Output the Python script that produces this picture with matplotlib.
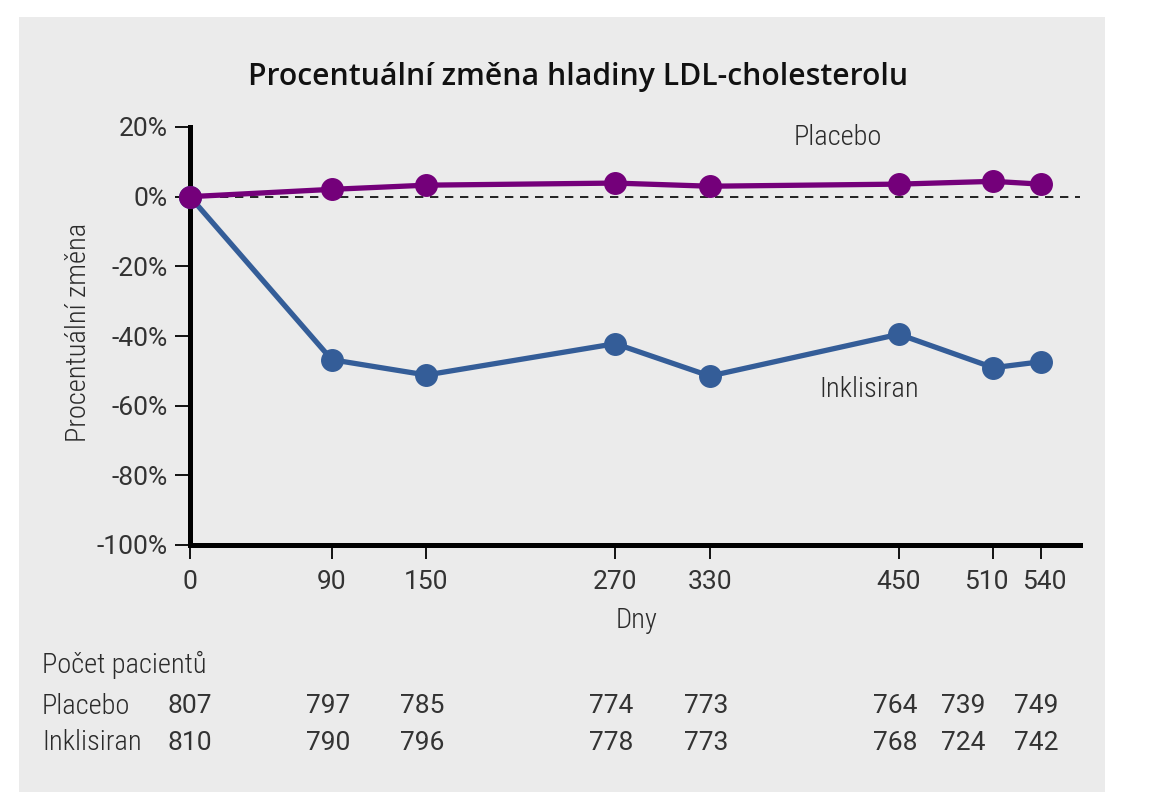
import matplotlib
matplotlib.use("Agg")
import matplotlib.pyplot as plt
from matplotlib import font_manager
from matplotlib.patches import Rectangle
from matplotlib.transforms import blended_transform_factory, offset_copy, ScaledTranslation

# ---------------- data ----------------
days = [0, 90, 150, 270, 330, 450, 510, 540]
placebo = [0.0, 2.1, 3.3, 3.9, 3.0, 3.6, 4.4, 3.6]
inclisiran = [0.0, -46.8, -51.2, -42.2, -51.5, -39.5, -49.1, -47.4]
y_ticks = [20, 0, -20, -40, -60, -80, -100]
n_placebo = [807, 797, 785, 774, 773, 764, 739, 749]
n_inclisiran = [810, 790, 796, 778, 773, 768, 724, 742]
title = "Procentuální změna hladiny LDL-cholesterolu"
ylabel = "Procentuální změna"
xlabel = "Dny"
table_header = "Počet pacientů"
row_labels = ["Placebo", "Inklisiran"]

# ---------------- fonts ----------------
avail = {f.name for f in font_manager.fontManager.ttflist}


def pick(cands):
    for c in cands:
        if c in avail:
            return c
    return "DejaVu Sans"


WORD_FONT = [pick(["Roboto Condensed", "Liberation Sans Narrow", "Roboto"]), "DejaVu Sans"]
NUM_FONT = [pick(["Roboto", "Open Sans", "Lato"]), "DejaVu Sans"]
TITLE_FONT = [pick(["Open Sans", "Noto Sans", "Lato"]), "DejaVu Sans"]
plt.rcParams["font.family"] = WORD_FONT

PURPLE = "#74007a"
BLUE = "#345d98"
TXT = "#2b2b2b"
NUM_COL = "#333333"
FS_W = 20.5
FS_N = 19
FW = "light"
FW_N = "normal"

W, H = 1153, 800
fig = plt.figure(figsize=(W / 100, H / 100), dpi=100, facecolor="white")
fig.patches.append(Rectangle((19 / W, 1 - 792 / H), (1105 - 19) / W, (792 - 17) / H,
                             transform=fig.transFigure, facecolor="#ebebeb",
                             edgecolor="none", zorder=-10))

ax = fig.add_axes([190 / W, 1 - 545 / H, (1080 - 190) / W, (545 - 127) / H])
ax.set_zorder(5)
ax.set_facecolor("none")
ax.set_xlim(0, 565)
ax.set_ylim(-100, 20)

for s in ["top", "right"]:
    ax.spines[s].set_visible(False)
for s in ["left", "bottom"]:
    ax.spines[s].set_linewidth(3.6)
    ax.spines[s].set_color("black")
    ax.spines[s].set_capstyle("projecting")

ax.set_xticks(days)
ax.set_xticklabels([str(d) for d in days])
ax.set_yticks(y_ticks)
ax.set_yticklabels([f"{v}%" for v in y_ticks])
ax.tick_params(axis="y", direction="out", length=11, width=1.3, color="black",
               labelsize=FS_N, labelcolor=NUM_COL, pad=5)
ax.tick_params(axis="x", direction="out", length=10, width=1.3, color="black",
               labelsize=FS_N, labelcolor=NUM_COL, pad=8)
for lab in ax.get_xticklabels() + ax.get_yticklabels():
    lab.set_fontweight(FW_N)
    lab.set_family(NUM_FONT)
# slight nudges of the two crowded last x tick labels
xl = ax.get_xticklabels()
xl[-2].set_transform(xl[-2].get_transform() + ScaledTranslation(-7 / 100, 0, fig.dpi_scale_trans))
xl[-1].set_transform(xl[-1].get_transform() + ScaledTranslation(4 / 100, 0, fig.dpi_scale_trans))

ax.axhline(0, color="black", lw=1.2, ls=(0, (5, 4)), zorder=1)

ax.plot(days, inclisiran, color=BLUE, lw=3.8, marker="o", ms=15.5, clip_on=False, zorder=3)
ax.plot(days, placebo, color=PURPLE, lw=3.8, marker="o", ms=15.5, clip_on=False, zorder=4)

ax.text(411, 17, "Placebo", ha="center", va="center", fontsize=FS_W, fontweight=FW, color=TXT)
ax.text(431, -55.3, "Inklisiran", ha="center", va="center", fontsize=FS_W, fontweight=FW, color=TXT)

fig.text(578 / W, 1 - 77 / H, title, ha="center", va="center", fontsize=21.7,
         fontweight="semibold", family=TITLE_FONT, color="#111111")
fig.text(78 / W, 1 - 332 / H, ylabel, ha="center", va="center", rotation=90,
         fontsize=FS_W, fontweight=FW, color=TXT)
fig.text(637 / W, 1 - 620 / H, xlabel, ha="center", va="center", fontsize=FS_W,
         fontweight=FW, color=TXT)

# patient-count table
tr = blended_transform_factory(ax.transData, fig.transFigure)
fig.text(42 / W, 1 - 665 / H, table_header, ha="left", va="center", fontsize=FS_W,
         fontweight=FW, color=TXT)
for lab, ypx in zip(row_labels, [706, 743]):
    fig.text(42 / W, 1 - ypx / H, lab, ha="left", va="center", fontsize=FS_W,
             fontweight=FW, color=TXT)
for vals, ypx in zip([n_placebo, n_inclisiran], [706, 743]):
    for d, v in zip(days, vals):
        shift = -30 if d == 510 else (0 if d == 0 else -4)
        t = offset_copy(tr, fig=fig, x=shift, y=0, units="dots")
        ax.text(d, 1 - ypx / H, str(v), transform=t, ha="center", va="center",
                fontsize=FS_N, fontweight=FW_N, family=NUM_FONT, color=NUM_COL, clip_on=False)

fig.savefig("out.png", dpi=100, facecolor="white")
